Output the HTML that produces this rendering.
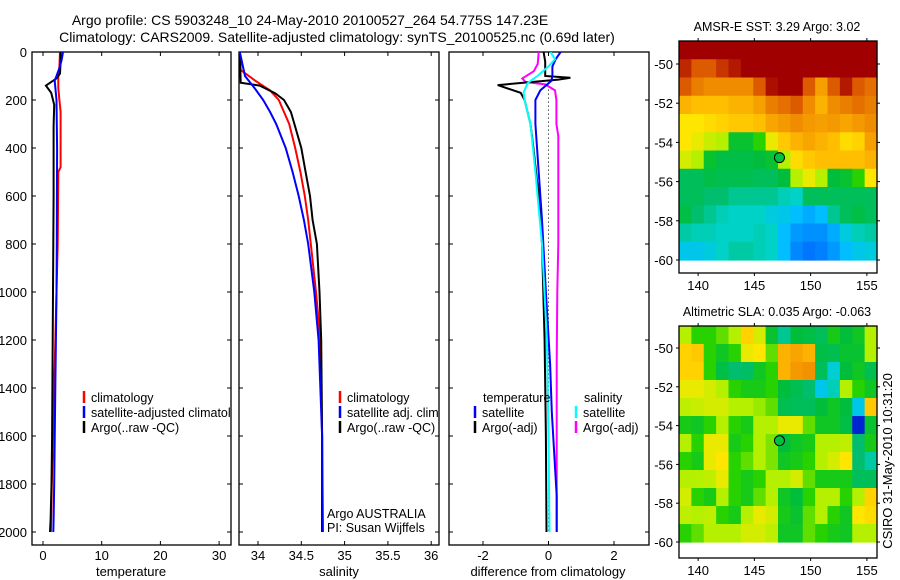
<!DOCTYPE html>
<html><head><meta charset="utf-8"><style>
html,body{margin:0;padding:0;background:#fff;}
svg{display:block;font-family:"Liberation Sans",sans-serif;}
text{fill:#000;}
</style></head><body>
<svg id="fig" width="900" height="580" viewBox="0 0 900 580" xmlns="http://www.w3.org/2000/svg">
<text x="310" y="25" font-size="14" text-anchor="middle">Argo profile: CS 5903248_10 24-May-2010 20100527_264 54.775S 147.23E</text>
<text x="337" y="42" font-size="14" text-anchor="middle">Climatology: CARS2009. Satellite-adjusted climatology: synTS_20100525.nc (0.69d later)</text>
<defs>
<clipPath id="c1"><rect x="32" y="52" width="199" height="493"/></clipPath>
<clipPath id="c2"><rect x="239" y="52" width="200" height="493"/></clipPath>
<clipPath id="c3"><rect x="449" y="52" width="200" height="493"/></clipPath>
</defs>
<g id="layer"></g>
</svg>
<script>
// ---- temperature panel data ----
const tArgoDepth = [0,40,90,110,140,170,220,310,400,600,800,1000,1200,1400,1600,1800,1950,2000];
const tArgo = [3.0,3.0,2.9,2.3,0.5,1.4,1.9,1.8,1.8,1.8,1.75,1.7,1.65,1.6,1.55,1.45,1.3,1.2];
const tClimDepth = [0,60,100,150,200,250,480,500,800,1000,1400,1800,2000];
const tClim = [2.9,2.8,2.6,2.6,2.8,3.0,3.0,2.6,2.5,2.3,1.9,1.5,1.35];
const tSatDepth = [0,30,60,100,120,200,400,800,1000,1400,1800,1950,2000];
const tSat = [3.4,3.2,2.9,2.3,2.0,2.3,2.4,2.35,2.3,2.1,1.9,1.8,1.75];
// ---- salinity panel data ----
const sArgoDepth = [0,128,140,172,200,250,300,400,500,600,700,800,1000,1200,1600,2000];
const sArgo = [33.79,33.80,34.02,34.2,34.3,34.38,34.42,34.5,34.55,34.6,34.63,34.68,34.71,34.73,34.74,34.74];
const sClimDepth = [0,75,120,160,200,300,400,500,600,700,800,1000,1200,1600,2000];
const sClim = [33.79,33.8,33.97,34.14,34.24,34.36,34.43,34.49,34.54,34.58,34.61,34.67,34.72,34.74,34.74];
const sSatDepth = [0,50,100,150,200,250,300,400,500,600,700,800,1000,1200,1600,2000];
const sSat = [33.79,33.82,33.85,33.96,34.06,34.14,34.21,34.32,34.4,34.47,34.53,34.58,34.65,34.7,34.74,34.75];
// ---- difference panel data ----
const dTArgoDepth = [0,40,100,107,115,138,170,200,300,400,600,800,1200,1600,2000];
const dTArgo = [-0.15,-0.1,-0.1,0.67,0.3,-1.55,-0.85,-0.73,-0.55,-0.46,-0.3,-0.2,-0.12,-0.08,-0.06];
const dTSatDepth = [0,30,60,100,120,160,200,300,500,700,1000,1300,1500,1850,2000];
const dTSat = [0.37,0.22,0.12,0.12,0.09,-0.25,-0.4,-0.4,-0.3,-0.2,-0.08,0.05,0.1,0.25,0.25];
const dSSatDepth = [0,30,60,100,130,170,200,300,500,800,1200,1600,2000];
const dSSat = [0.06,0.2,0.0,-0.34,-0.64,-0.76,-0.73,-0.55,-0.4,-0.2,-0.05,0.0,0.03];
const dSArgoDepth = [0,50,80,110,125,135,160,200,300,350,800,1000,1300,2000];
const dSArgo = [-0.3,-0.33,-0.45,-0.8,-0.7,-0.1,0.2,0.24,0.24,0.3,0.3,0.27,0.25,0.25];
// ---- tick labels ----
const depthTicks = [0,200,400,600,800,1000,1200,1400,1600,1800,2000];
const tempTicks = [0,10,20,30];
const salTicks = [34,34.5,35,35.5,36];
const salTickLabels = ["34","34.5","35","35.5","36"];
const diffTicks = [-2,0,2];
const lonTicks = [140,145,150,155];
const latTicks = [-50,-52,-54,-56,-58,-60];
// ---- map grids (normalized colour index, rows north->south) ----
const sstGrid = [
[1,1,1,1,1,1,1,1,1,1,1,1,1,1,1,1],
[0.92,0.85,0.85,0.9,0.95,1,1,1,1,1,1,1,1,1,1,1],
[0.85,0.8,0.78,0.78,0.78,0.78,0.85,0.97,1,1,0.85,0.75,0.85,0.95,0.85,0.82],
[0.72,0.7,0.7,0.7,0.72,0.72,0.75,0.8,0.82,0.85,0.78,0.72,0.78,0.8,0.82,0.8],
[0.62,0.62,0.64,0.66,0.68,0.68,0.7,0.74,0.76,0.78,0.76,0.75,0.76,0.74,0.76,0.78],
[0.62,0.6,0.57,0.55,0.46,0.46,0.5,0.6,0.68,0.72,0.74,0.72,0.7,0.64,0.66,0.75],
[0.58,0.55,0.46,0.44,0.44,0.44,0.45,0.46,0.55,0.64,0.68,0.7,0.7,0.7,0.7,0.72],
[0.42,0.42,0.44,0.43,0.43,0.43,0.42,0.42,0.45,0.55,0.6,0.55,0.45,0.46,0.5,0.62],
[0.42,0.42,0.4,0.4,0.38,0.38,0.38,0.38,0.36,0.35,0.42,0.42,0.42,0.42,0.42,0.42],
[0.44,0.4,0.38,0.36,0.35,0.35,0.35,0.33,0.32,0.3,0.28,0.3,0.38,0.42,0.44,0.42],
[0.37,0.36,0.36,0.35,0.35,0.35,0.36,0.35,0.3,0.26,0.25,0.25,0.28,0.33,0.36,0.37],
[0.32,0.32,0.33,0.35,0.37,0.37,0.36,0.35,0.3,0.24,0.22,0.23,0.26,0.3,0.32,0.33]];
const slaGrid = [
[0.55,0.5,0.5,0.52,0.55,0.66,0.58,0.46,0.38,0.45,0.44,0.42,0.48,0.45,0.47,0.55],
[0.66,0.68,0.5,0.47,0.5,0.6,0.62,0.52,0.72,0.74,0.72,0.44,0.43,0.46,0.46,0.55],
[0.66,0.66,0.5,0.44,0.4,0.41,0.47,0.5,0.72,0.76,0.77,0.42,0.34,0.45,0.47,0.43],
[0.6,0.6,0.58,0.55,0.5,0.48,0.48,0.5,0.45,0.43,0.4,0.32,0.36,0.55,0.5,0.47],
[0.56,0.57,0.58,0.58,0.55,0.55,0.54,0.52,0.43,0.42,0.42,0.45,0.47,0.45,0.32,0.68],
[0.48,0.47,0.5,0.55,0.5,0.48,0.55,0.55,0.6,0.6,0.52,0.47,0.47,0.44,0.12,0.46],
[0.55,0.5,0.6,0.6,0.48,0.5,0.55,0.53,0.45,0.47,0.48,0.55,0.55,0.56,0.4,0.48],
[0.5,0.48,0.6,0.62,0.5,0.52,0.55,0.53,0.47,0.48,0.5,0.55,0.58,0.62,0.4,0.37],
[0.55,0.55,0.56,0.6,0.5,0.48,0.5,0.55,0.55,0.58,0.52,0.48,0.48,0.48,0.42,0.42],
[0.58,0.5,0.48,0.55,0.5,0.48,0.52,0.55,0.47,0.45,0.5,0.55,0.55,0.5,0.55,0.66],
[0.56,0.55,0.56,0.5,0.48,0.55,0.6,0.58,0.48,0.46,0.52,0.55,0.5,0.47,0.62,0.64],
[0.5,0.52,0.55,0.55,0.55,0.58,0.58,0.56,0.47,0.47,0.52,0.5,0.48,0.47,0.55,0.55]];
const floatLon = 147.23;
const floatLat = -54.775;

const NS = "http://www.w3.org/2000/svg";
const layer = document.getElementById('layer');
function mk(tag, attrs, parent){const e=document.createElementNS(NS,tag);for(const k in attrs)e.setAttribute(k,attrs[k]);(parent||layer).appendChild(e);return e;}

// axis functions
const yDepth = d => 52 + d*0.24;
const xTemp = t => 43 + t*5.87;
const xSal = s => 258 + (s-34)*86.6;
const xDiff = v => 548.5 + v*32.75;

function line(xs, depths, vals, fx, color, clip, name){
  const pts = vals.map((v,i)=>fx(v).toFixed(1)+','+yDepth(depths[i]).toFixed(1)).join(' ');
  const p = mk('polyline',{points:pts,fill:'none',stroke:color,'stroke-width':2,'clip-path':'url(#'+clip+')'});
  
  
}

function panel(x0, x1, name){
  const r = mk('rect',{x:x0,y:52,width:x1-x0,height:493,fill:'none',stroke:'#000','stroke-width':1.3});
  
  
  depthTicks.forEach(d=>{
    const y=yDepth(d);
    mk('line',{x1:x0,x2:x0+4,y1:y,y2:y,stroke:'#000','stroke-width':1});
    mk('line',{x1:x1-4,x2:x1,y1:y,y2:y,stroke:'#000','stroke-width':1});
  });
}
function xticks(vals, labels, fx, name){
  vals.forEach((v,i)=>{
    const x=fx(v);
    mk('line',{x1:x,x2:x,y1:52,y2:56,stroke:'#000','stroke-width':1});
    mk('line',{x1:x,x2:x,y1:541,y2:545,stroke:'#000','stroke-width':1});
    const t=mk('text',{x:x,y:560,'font-size':13,'text-anchor':'middle'});
    t.textContent=labels[i];
    
    
  });
}
function label(x,y,txt,name,size,anchor){
  const t=mk('text',{x:x,y:y,'font-size':size||13,'text-anchor':anchor||'start'});
  t.textContent=txt;
  
  
  return t;
}

// panel 1 temperature
panel(32,231,'temperature-panel');
depthTicks.forEach(d=>{
  const t=mk('text',{x:27,y:yDepth(d)+5,'font-size':13,'text-anchor':'end'});
  t.textContent=String(d);
  
  
});
xticks(tempTicks, tempTicks.map(String), xTemp, 'temperature');
line(0,tClimDepth,tClim,xTemp,'#f00','c1','temp-climatology-line');
line(0,tArgoDepth,tArgo,xTemp,'#000','c1','temp-argo-line');
line(0,tSatDepth,tSat,xTemp,'#00f','c1','temp-satellite-line');
label(131,576,'temperature','temperature-axis-title',13,'middle');

// panel 2 salinity
panel(239,439,'salinity-panel');
xticks(salTicks, salTickLabels, xSal, 'salinity');
line(0,sClimDepth,sClim,xSal,'#f00','c2','sal-climatology-line');
line(0,sArgoDepth,sArgo,xSal,'#000','c2','sal-argo-line');
line(0,sSatDepth,sSat,xSal,'#00f','c2','sal-satellite-line');
label(339,576,'salinity','salinity-axis-title',13,'middle');
label(327,518,'Argo AUSTRALIA','argo-australia-note',12.5);
label(327,532,'PI: Susan Wijffels','pi-note',12.5);

// panel 3 differences
panel(449,649,'difference-panel');
xticks(diffTicks, diffTicks.map(String), xDiff, 'difference');
mk('line',{x1:xDiff(0),x2:xDiff(0),y1:yDepth(140),y2:yDepth(2000),stroke:'#000','stroke-width':1,'stroke-dasharray':'1,3'});
line(0,dSArgoDepth,dSArgo,xDiff,'#f0f','c3','sal-argo-diff-line');
line(0,dTArgoDepth,dTArgo,xDiff,'#000','c3','temp-argo-diff-line');
line(0,dTSatDepth,dTSat,xDiff,'#00f','c3','temp-satellite-diff-line');
line(0,dSSatDepth,dSSat,xDiff,'#0ff','c3','sal-satellite-diff-line');
label(548,576,'difference from climatology','difference-axis-title',13,'middle');

// legends
function legEntry(x,y,color,txt,clip,name){
  const g=mk('g',{'clip-path':clip?'url(#'+clip+')':''});
  
  
  if(color) mk('line',{x1:x,x2:x,y1:y-11,y2:y+1,stroke:color,'stroke-width':2.5},g);
  const t=mk('text',{x:x+7,y:y,'font-size':12.5},g); t.textContent=txt;
}
legEntry(84,402,'#f00','climatology','c1','legend-climatology');
legEntry(84,417,'#00f','satellite-adjusted climatology','c1','legend-satellite-adjusted');
legEntry(84,432,'#000','Argo(..raw -QC)','c1','legend-argo');
legEntry(340,402,'#f00','climatology','c2','legend-climatology-sal');
legEntry(340,417,'#00f','satellite adj. clim.','c2','legend-satellite-sal');
legEntry(340,432,'#000','Argo(..raw -QC)','c2','legend-argo-sal');
label(483,402,'temperature','legend-temperature-header',12.5);
legEntry(475,417,'#00f','satellite',null,'legend-temp-satellite');
legEntry(475,432,'#000','Argo(-adj)',null,'legend-temp-argo');
label(584,402,'salinity','legend-salinity-header',12.5);
legEntry(576,417,'#0ff','satellite',null,'legend-sal-satellite');
legEntry(576,432,'#f0f','Argo(-adj)',null,'legend-sal-argo');

// colour ramp
const stops=[[0,[0,0,160]],[0.1,[0,20,200]],[0.2,[0,100,255]],[0.3,[0,190,255]],[0.35,[0,210,200]],[0.4,[0,190,110]],[0.45,[0,190,60]],[0.5,[40,210,0]],[0.55,[180,240,0]],[0.62,[255,230,0]],[0.7,[255,190,0]],[0.78,[240,140,0]],[0.85,[220,90,0]],[0.92,[190,40,0]],[1,[160,0,0]]];
function ramp(v){
  for(let i=1;i<stops.length;i++){ if(v<=stops[i][0]){const a=stops[i-1],b=stops[i];const f=(v-a[0])/(b[0]-a[0]);return 'rgb('+a[1].map((c,k)=>Math.round(c+(b[1][k]-c)*f)).join(',')+')';}}
  return 'rgb(160,0,0)';
}

function map(grid, top, yLat50, pxPerDeg, title, name){
  const left=679,right=877,bottom=top+232;
  const lonL=138.3,lonR=155.9;
  const xLon = lo => left + (lo-lonL)*(right-left)/(lonR-lonL);
  const yLat = la => yLat50 + (-50-la)*pxPerDeg;
  const latTop = -50 + (yLat50-top)/pxPerDeg;
  const nr=grid.length,nc=grid[0].length;
  const dLat=(latTop+60)/nr,dLon=(lonR-lonL)/nc;
  const g=mk('g',{});
  
  
  grid.forEach((row,r)=>row.forEach((v,c)=>{
    const la0=latTop-r*dLat, la1=latTop-(r+1)*dLat;
    const lo0=lonL+c*dLon, lo1=lonL+(c+1)*dLon;
    const cell=mk('rect',{x:xLon(lo0).toFixed(2),y:yLat(la0).toFixed(2),width:(xLon(lo1)-xLon(lo0)+0.6).toFixed(2),height:(yLat(la1)-yLat(la0)+0.6).toFixed(2),fill:ramp(v)},g);
    
    
  }));
  mk('rect',{x:left,y:top,width:right-left,height:bottom-top,fill:'none',stroke:'#000','stroke-width':1.3},g);
  latTicks.forEach(la=>{
    const y=yLat(la);
    mk('line',{x1:left-3,x2:left,y1:y,y2:y,stroke:'#000'},g);
    mk('line',{x1:right,x2:right+3,y1:y,y2:y,stroke:'#000'},g);
    const t=mk('text',{x:673,y:y+5,'font-size':13,'text-anchor':'end'},g); t.textContent=String(la);
    
    
  });
  lonTicks.forEach(lo=>{
    const x=xLon(lo);
    mk('line',{x1:x,x2:x,y1:top-3,y2:top,stroke:'#000'},g);
    mk('line',{x1:x,x2:x,y1:bottom,y2:bottom+3,stroke:'#000'},g);
    const t=mk('text',{x:x,y:bottom+17,'font-size':13,'text-anchor':'middle'},g); t.textContent=String(lo);
    
    
  });
  const m=mk('circle',{cx:xLon(floatLon),cy:yLat(floatLat),r:5,fill:'#00c040',stroke:'#000','stroke-width':1},g);
  
  
  const tt=mk('text',{x:777,y:top-10,'font-size':12.5,'text-anchor':'middle'},g); tt.textContent=title;
  
  
}
map(sstGrid,41,64,19.6,'AMSR-E SST: 3.29 Argo: 3.02','sst-map');
map(slaGrid,326,348,19.4,'Altimetric SLA: 0.035 Argo: -0.063','sla-map');

const stamp=mk('text',{x:0,y:0,'font-size':13,'text-anchor':'middle',transform:'translate(892,461) rotate(-90)'});
stamp.textContent='CSIRO 31-May-2010 10:31:20';


</script>
</body></html>
